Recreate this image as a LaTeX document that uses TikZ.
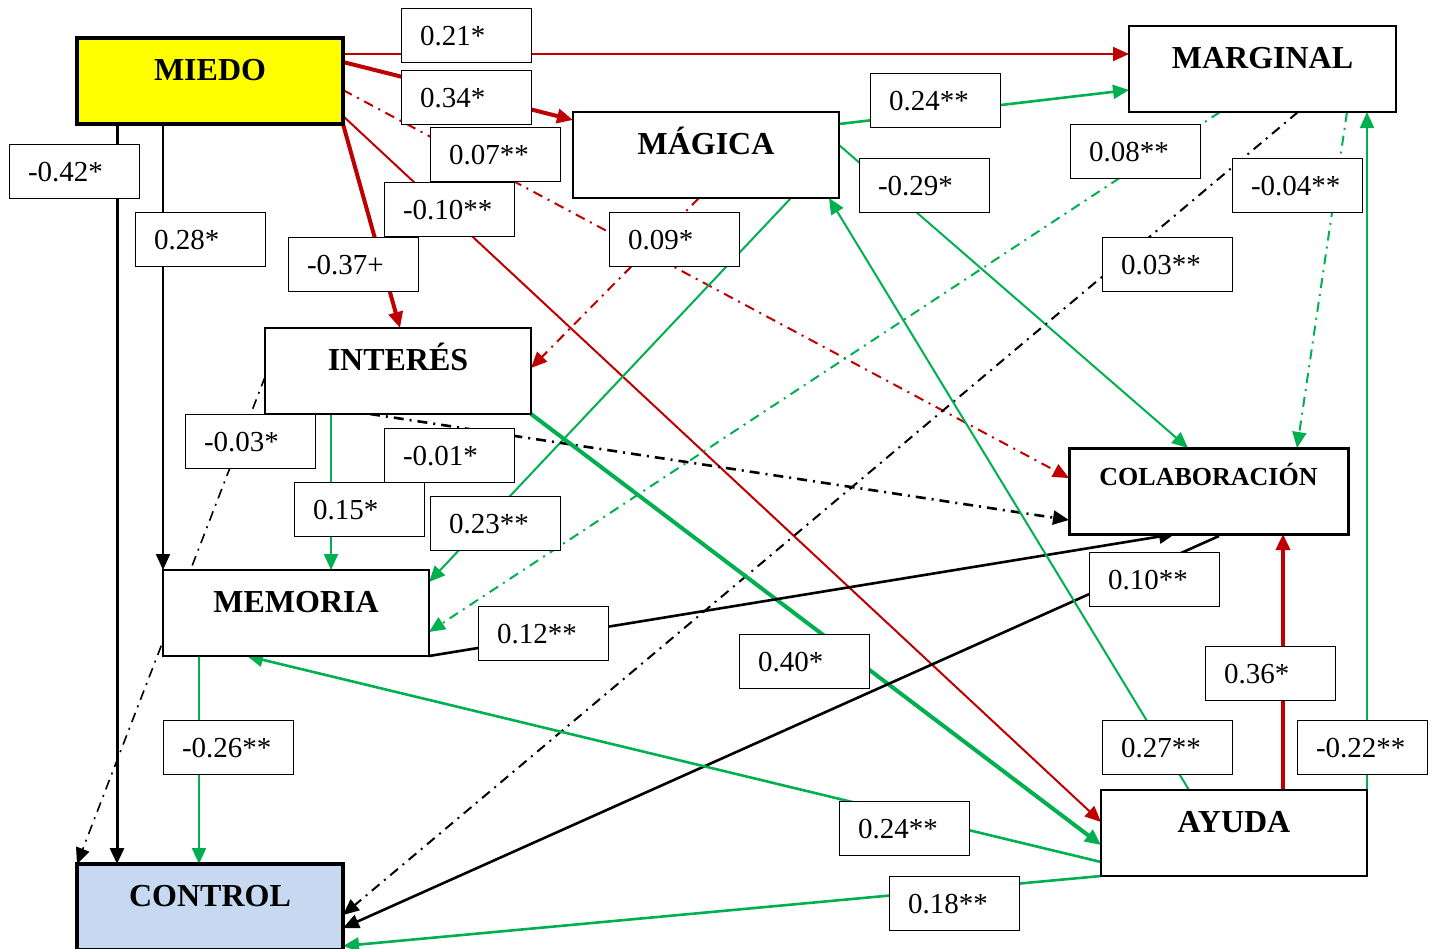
\documentclass[tikz,border=0pt]{standalone}
\usepackage{fontspec}
\setmainfont{Liberation Serif}
\usetikzlibrary{arrows.meta}
\definecolor{cred}{HTML}{C00000}
\definecolor{cgreen}{HTML}{00B050}
\definecolor{cyellow}{HTML}{FFFF00}
\definecolor{cblue}{HTML}{C6D9F1}
\pgfdeclarelayer{edges}
\pgfsetlayers{edges,main}
\tikzset{
  box/.style={draw, line width=1.5pt, fill=white, minimum width=266pt, minimum height=86pt,
    inner sep=0pt, outer sep=0pt, text height=42pt, text depth=44pt, font=\bfseries\fontsize{32}{36}\selectfont},
  lab/.style={draw, line width=1pt, fill=white, anchor=north west, minimum height=54pt,
    inner xsep=19pt, inner ysep=0pt, outer sep=0pt, text width=92pt, align=left, text height=20pt, text depth=0pt,
    font=\fontsize{29}{32}\selectfont},
  arr/.style={-{Triangle[length=16pt,width=14pt]}},
  dd/.style={dash pattern=on 10pt off 6pt on 2pt off 6pt},
  thin/.style={line width=2pt},
  med/.style={line width=2.6pt},
  thick/.style={line width=4pt},
}
\begin{document}
\begin{tikzpicture}[x=1pt,y=-1pt]
\useasboundingbox (0,0) rectangle (1434,948);
% main nodes
\node[box, fill=cyellow, line width=3.5pt] (miedo) at (210,81) {MIEDO};
\node[box, minimum width=267pt] (marginal) at (1262.5,69) {MARGINAL};
\node[box] (magica) at (706,155) {MÁGICA};
\node[box] (interes) at (398,371) {INTERÉS};
\node[box, minimum width=279pt, line width=3pt, text height=37pt, text depth=49pt,
  font=\bfseries\fontsize{26}{30}\selectfont] (colab) at (1208.5,491) {COLABORACIÓN};
\node[box] (memoria) at (296,613) {MEMORIA};
\node[box] (ayuda) at (1234,833) {AYUDA};
\node[box, fill=cblue, line width=3.5pt] (control) at (210,907) {CONTROL};

\begin{pgfonlayer}{edges}
% from MIEDO
\draw[arr, cred, thin] ([yshift=-16pt]miedo.north east) -- ([yshift=-28pt]marginal.north west);
\draw[arr, cred, thick] ([yshift=-24pt]miedo.north east) -- ([yshift=-8pt]magica.north west);
\draw[arr, cred, thin, dd] ([yshift=-52pt]miedo.north east) -- ([yshift=-30pt]colab.north west);
\draw[arr, cred, thin] ([yshift=-78pt]miedo.north east) -- ([yshift=-32pt]ayuda.north west);
\draw[arr, cred, thick] (miedo.south east) -- ([xshift=135pt]interes.north west);
\draw[arr, black, line width=3pt] ([xshift=40pt]miedo.south west) -- ([xshift=40pt]control.north west);
\draw[arr, black, thin] ([xshift=86pt]miedo.south west) -- (memoria.north west);
% from MAGICA
\draw[arr, cgreen, med] ([yshift=-12pt]magica.north east) -- ([yshift=-64pt]marginal.north west);
\draw[arr, cgreen, thin] ([yshift=-33pt]magica.north east) -- ([xshift=119pt]colab.north west);
\draw[arr, cred, thin, dd] ([xshift=126pt]magica.south west) -- ([yshift=-40pt]interes.north east);
\draw[arr, cgreen, thin] ([xshift=218pt]magica.south west) -- ([yshift=-12pt]memoria.north east);
% from MARGINAL
\draw[arr, cgreen, thin, dd] ([xshift=91pt]marginal.south west) -- ([yshift=-62pt]memoria.north east);
\draw[arr, black, thin, dd] ([xshift=169pt]marginal.south west) -- ([yshift=-51pt]control.north east);
\draw[arr, cgreen, thin, dd] ([xshift=218pt]marginal.south west) -- ([xshift=228pt]colab.north west);
% from INTERES
\draw[arr, cgreen, thin] ([xshift=66pt]interes.south west) -- ([xshift=168pt]memoria.north west);
\draw[arr, black, med, dd] ([xshift=105pt]interes.south west) -- ([yshift=14pt]colab.south west);
\draw[arr, cgreen, thick] (interes.south east) -- ([yshift=-55pt]ayuda.north west);
\draw[arr, black, line width=1.6pt, dd] ([yshift=-49pt]interes.north west) -- (control.north west);
% from MEMORIA
\draw[arr, black, med] (memoria.south east) -- ([xshift=106pt]colab.south west);
\draw[arr, cgreen, thin] ([xshift=36pt]memoria.south west) -- ([xshift=122pt]control.north west);
% from COLABORACION
\draw[arr, black, med] ([xshift=150pt,yshift=-2pt]colab.south west) -- ([yshift=-64pt]control.north east);
% from AYUDA
\draw[arr, cgreen, thin] ([xshift=88pt]ayuda.north west) -- ([xshift=-10pt]magica.south east);
\draw[arr, cgreen, thin] ([yshift=-10pt]ayuda.north east) -- ([xshift=-29pt]marginal.south east);
\draw[arr, cred, line width=3.5pt] ([xshift=182pt]ayuda.north west) -- ([xshift=214pt]colab.south west);
\draw[arr, cgreen, med] ([yshift=14pt]ayuda.south west) -- ([xshift=84pt]memoria.south west);
\draw[arr, cgreen, med] (ayuda.south west) -- ([yshift=-82pt]control.north east);
\end{pgfonlayer}

% coefficient labels
\node[lab] (l1) at (401,8) {0.21*};
\node[lab] (l2) at (401,70) {0.34*};
\node[lab] (l3) at (430,127) {0.07**};
\node[lab] (l4) at (384,182) {-0.10**};
\node[lab] (l5) at (288,237) {-0.37+};
\node[lab] (l6) at (9,144) {-0.42*};
\node[lab] (l7) at (135,212) {0.28*};
\node[lab] (l8) at (870,73) {0.24**};
\node[lab] (l9) at (859,158) {-0.29*};
\node[lab] (l10) at (1070,124) {0.08**};
\node[lab] (l11) at (1232,158) {-0.04**};
\node[lab] (l12) at (609,212) {0.09*};
\node[lab] (l13) at (1102,237) {0.03**};
\node[lab] (l14) at (185,414) {-0.03*};
\node[lab] (l15) at (384,428) {-0.01*};
\node[lab] (l16) at (294,482) {0.15*};
\node[lab] (l17) at (430,496) {0.23**};
\node[lab] (l18) at (478,606) {0.12**};
\node[lab] (l19) at (1089,552) {0.10**};
\node[lab] (l20) at (739,634) {0.40*};
\node[lab] (l21) at (1205,646) {0.36*};
\node[lab] (l22) at (1102,720) {0.27**};
\node[lab] (l23) at (1297,720) {-0.22**};
\node[lab] (l24) at (163,720) {-0.26**};
\node[lab] (l25) at (839,801) {0.24**};
\node[lab] (l26) at (889,876) {0.18**};
\end{tikzpicture}
\end{document}
